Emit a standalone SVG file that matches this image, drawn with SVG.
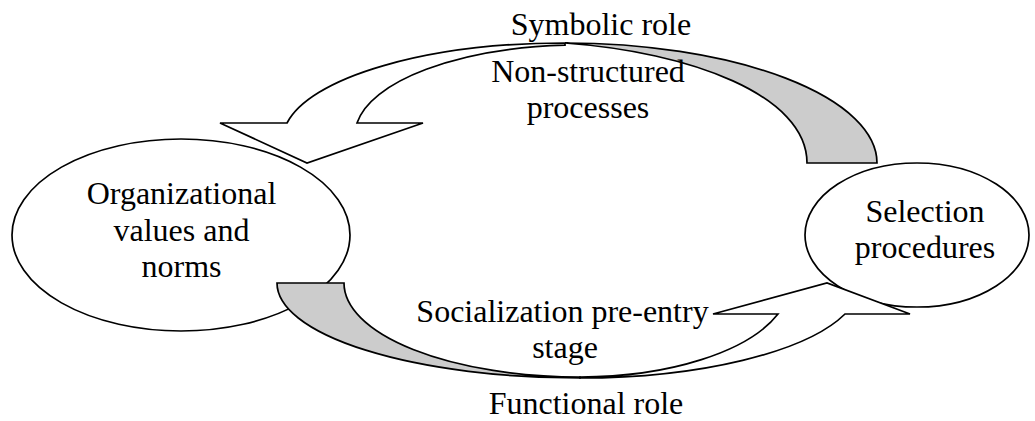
<svg xmlns="http://www.w3.org/2000/svg" width="1035" height="421" viewBox="0 0 1035 421">
  <style>
    .shape { fill: #ffffff; stroke: #000000; stroke-width: 1.7; stroke-linejoin: miter; }
    .back { fill: #cccccc; stroke: #000000; stroke-width: 1.7; stroke-linejoin: miter; }
    .front { fill: #ffffff; stroke: #000000; stroke-width: 1.7; stroke-linejoin: miter; }
    text { font-family: "Liberation Serif", "Times New Roman", serif; font-size: 32px; fill: #000000; text-anchor: middle; }
  </style>
  <rect x="0" y="0" width="1035" height="421" fill="#ffffff"/>

  <g id="node-organizational-values">
    <ellipse class="shape" cx="181" cy="235" rx="169" ry="96"/>
    <text x="181.5" y="204">Organizational</text>
    <text x="181.5" y="240.5">values and</text>
    <text x="181.5" y="277">norms</text>
  </g>

  <g id="node-selection-procedures">
    <ellipse class="shape" cx="917" cy="235" rx="112" ry="72"/>
    <text x="925" y="222">Selection</text>
    <text x="925" y="258">procedures</text>
  </g>

  <g id="connectors">
    <!-- top curved arrow: Selection procedures -> Organizational values -->
    <path class="back" d="M565,43 A312,120 0 0 1 877,163 L807,163 C807,95 690,52 565,43 Z"/>
    <path class="front" d="M220,123 L287,123 A282,97 0 0 1 565,43 L565,45.2 A225,90 0 0 0 357,123 L423,123 L307,163 Z"/>
    <!-- bottom curved arrow: Organizational values -> Selection procedures -->
    <path class="back" d="M277,283 L344,283 A236,94 0 0 0 580,377 L580,378 A303,95 0 0 1 277,283 Z"/>
    <path class="front" d="M580,378 A280.3,95 0 0 0 845,314 L910,314 L827,283 L713,314 L778,314 A209.7,94 0 0 1 580,377 Z"/>
  </g>

  <g id="labels">
    <text x="601" y="35">Symbolic role</text>
    <text x="588" y="82">Non-structured</text>
    <text x="588" y="118">processes</text>
    <text x="562.5" y="322">Socialization pre-entry</text>
    <text x="565" y="358">stage</text>
    <text x="586" y="414">Functional role</text>
  </g>
</svg>
